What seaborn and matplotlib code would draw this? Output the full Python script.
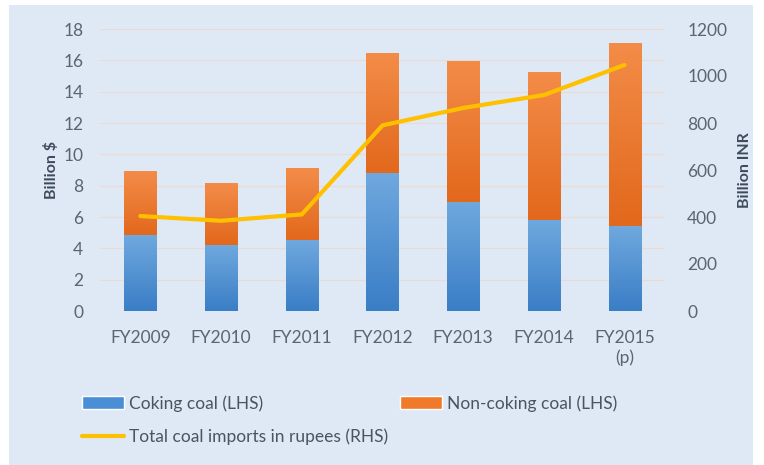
import numpy as np
import pandas as pd
import matplotlib
matplotlib.use('Agg')
import matplotlib.pyplot as plt
from matplotlib.patches import Rectangle, Patch
from matplotlib.lines import Line2D
from matplotlib.colors import LinearSegmentedColormap
import seaborn as sns

# values
years = ['FY2009', 'FY2010', 'FY2011', 'FY2012', 'FY2013', 'FY2014', 'FY2015\n(p)']
coking = [4.8, 4.2, 4.5, 8.8, 6.9, 5.75, 5.4]          # Billion $
non_coking = [4.1, 3.95, 4.55, 7.65, 9.05, 9.45, 11.65]  # Billion $
total_inr = [404, 384, 411, 790, 864, 919, 1047]        # Billion INR

df = pd.DataFrame({'year': years, 'coking': coking, 'non_coking': non_coking, 'inr': total_inr})
df['total'] = df['coking'] + df['non_coking']

sns.set_style('white')
plt.rcParams['font.family'] = ['Lato', 'DejaVu Sans']

blue = '#4a8fd6'
orange = '#f07a2a'
gold = '#ffc000'
tick_col = '#5a6472'
lab_col = '#3e4b5c'
fs = 12.5

fig = plt.figure(figsize=(7.64, 4.65), dpi=100)
fig.patches.append(Rectangle((9 / 764, 0), (753 - 9) / 764, 1 - 5 / 465, transform=fig.transFigure,
                             facecolor='#dfe9f5', edgecolor='none', zorder=-10))
ax = fig.add_axes([100 / 764, 1 - 311 / 465, 565 / 764, 282 / 465])
ax.set_facecolor('none')

# stacked bars: total in orange, coking on top in blue
sns.barplot(data=df, x='year', y='total', color=orange, width=0.4, saturation=1, ax=ax, zorder=3)
sns.barplot(data=df, x='year', y='coking', color=blue, width=0.4, saturation=1, ax=ax, zorder=3)

# vertical gradient fill like the original bars
grad_blue = LinearSegmentedColormap.from_list('gb', ['#3a7ec6', '#6fa8de'])
grad_orange = LinearSegmentedColormap.from_list('go', ['#e2681c', '#f38c48'])
n = len(years)
for i, p in enumerate(list(ax.patches)):
    cmap = grad_orange if i < n else grad_blue
    x0, y0 = p.get_x(), p.get_y()
    w, h = p.get_width(), p.get_height()
    y_lo = coking[i % n] if i < n else 0
    ax.imshow(np.linspace(0, 1, 64).reshape(-1, 1), cmap=cmap, origin='lower', aspect='auto',
              extent=(x0, x0 + w, y_lo, y0 + h), zorder=4 if i >= n else 3.5)
    p.set_facecolor('none')
    p.set_edgecolor('none')
ax.set_xlim(-0.5, 6.5)
ax.set_ylim(0, 18)

ax.set_yticks(np.arange(0, 19, 2))
ax.grid(axis='y', color='#edd9cf', linewidth=0.8, zorder=0)
ax.set_axisbelow(True)
for s in ax.spines.values():
    s.set_visible(False)
ax.tick_params(axis='y', length=0, pad=12, labelsize=fs, labelcolor=tick_col)
ax.tick_params(axis='x', length=0, pad=14, labelsize=fs, labelcolor=tick_col)
ax.set_xlabel('')
ax.set_ylabel('Billion $', fontsize=11.5, fontweight='bold', color=lab_col, labelpad=3)

ax2 = ax.twinx()
sns.lineplot(x=np.arange(len(years)), y=df['inr'], color=gold, linewidth=3, ax=ax2, zorder=5)
ax2.set_ylim(0, 1200)
ax2.set_yticks(np.arange(0, 1201, 200))
for s in ax2.spines.values():
    s.set_visible(False)
ax2.tick_params(axis='y', length=0, pad=16, labelsize=fs, labelcolor=tick_col)
ax2.set_ylabel('Billion INR', fontsize=11.5, fontweight='bold', color=lab_col, labelpad=8)

handles = [Patch(facecolor=blue, label='Coking coal (LHS)'),
           Line2D([], [], color=gold, linewidth=3, label='Total coal imports in rupees (RHS)'),
           Patch(facecolor=orange, label='Non-coking coal (LHS)')]
fig.legend(handles=handles, ncol=2, loc='upper left', bbox_to_anchor=(82 / 764, 1 - 395 / 465),
           frameon=False, fontsize=fs, handlelength=2.4, handletextpad=0.3, columnspacing=0.7,
           labelspacing=1.0, borderpad=0, borderaxespad=0, labelcolor='#4a5462')

fig.savefig('out.png', dpi=100)
